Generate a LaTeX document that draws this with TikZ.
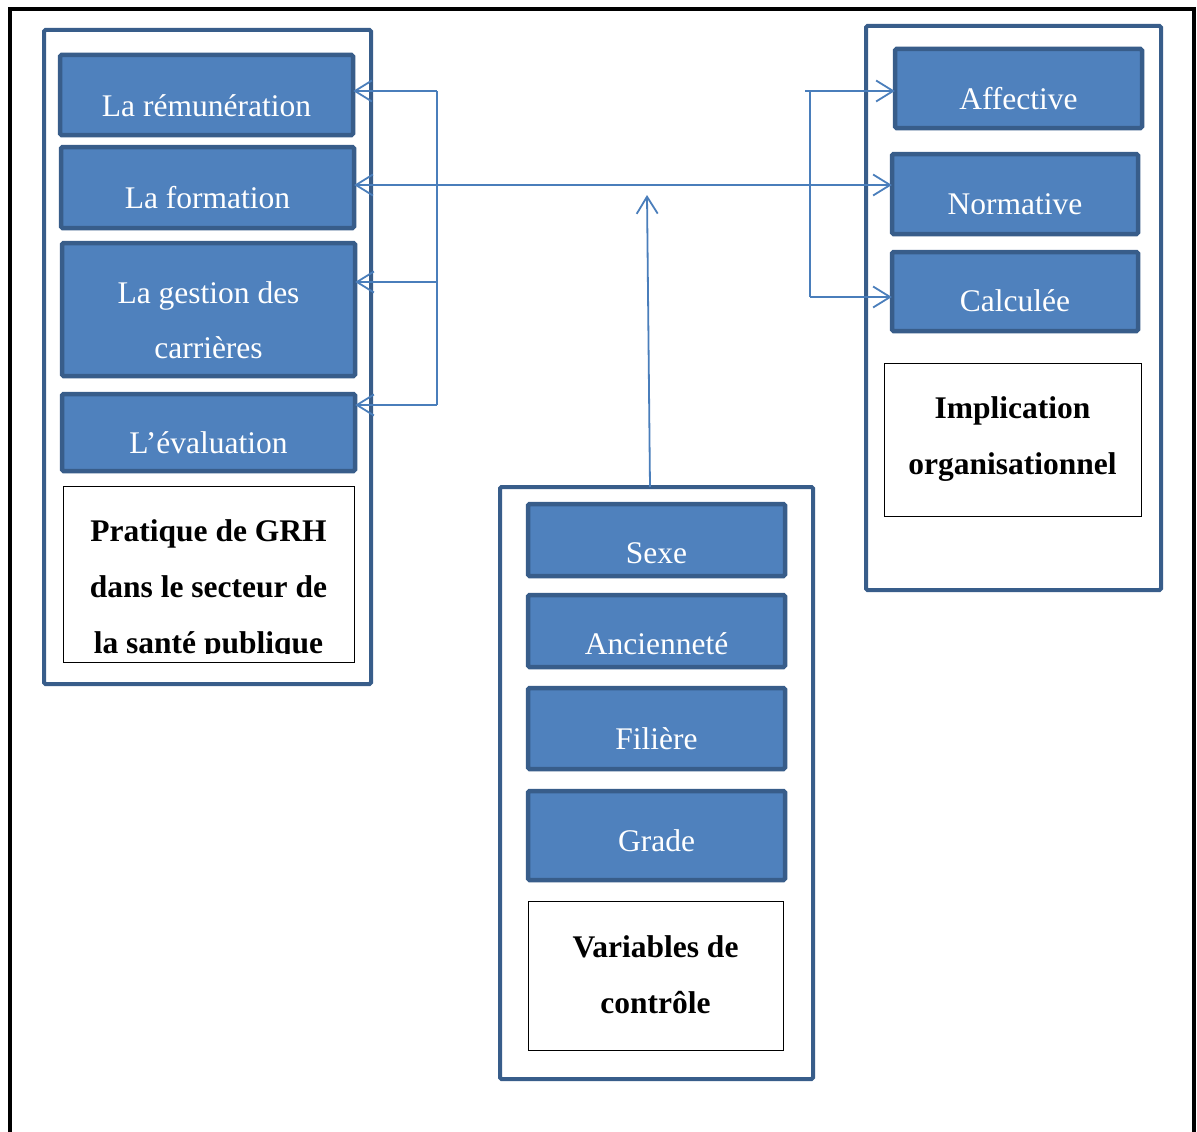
\documentclass[tikz,border=0pt]{standalone}
\usepackage{fontspec}
\setmainfont{Liberation Serif}
\usetikzlibrary{arrows.meta}
\definecolor{boxfill}{HTML}{4F81BD}
\definecolor{boxline}{HTML}{385D8A}
\definecolor{connc}{HTML}{4A7EBB}
\tikzset{
  container/.style={draw=boxline, line width=4pt, rounded corners=1.5pt},
  bluebox/.style={draw=boxline, fill=boxfill, line width=4.5pt, rounded corners=1.5pt},
  labelbox/.style={draw=black, line width=1pt, fill=white},
  btxt/.style={text=white, font=\fontsize{31.5}{55}\selectfont, anchor=base, align=center, inner sep=0pt},
  ltxt/.style={text=black, font=\bfseries\fontsize{31.5}{56}\selectfont, anchor=base, align=center, inner sep=0pt},
  conn/.style={draw=connc, line width=1.8pt},
  tip/.style={-{Straight Barb[length=17pt,width=21pt,line width=1.8pt]}},
}
\begin{document}
\begin{tikzpicture}[x=1pt,y=-1pt]
\clip (0,0) rectangle (1197,1132);
\fill[white] (0,0) rectangle (1197,1132);
% outer frame
\draw[line width=4.5pt, black] (10,1150) -- (10,9) -- (1194,9) -- (1194,1150);

% containers
\draw[container] (44,30) rectangle (371,684);
\draw[container] (866,26) rectangle (1161,590);
\draw[container] (500,487) rectangle (813,1079);

% left boxes
\path[bluebox] (60,55) rectangle (353,135);
\node[inner sep=0pt, minimum width=293pt, minimum height=80pt] (rem) at (206.5,95) {};
\node[btxt] at (206.5,116) {La rémunération};

\path[bluebox] (61,147) rectangle (354,228);
\node[inner sep=0pt, minimum width=293pt, minimum height=81pt] (form) at (207.5,187.5) {};
\node[btxt] at (207.5,208) {La formation};

\path[bluebox] (62,243) rectangle (355,376);
\node[inner sep=0pt, minimum width=293pt, minimum height=133pt] (gest) at (208.5,309.5) {};
\node[btxt] at (208.5,358) {La gestion des\\carrières};

\path[bluebox] (62,394) rectangle (355,471);
\node[inner sep=0pt, minimum width=293pt, minimum height=77pt] (eval) at (208.5,432.5) {};
\node[btxt] at (208.5,453) {L’évaluation};

\draw[labelbox] (63,486) rectangle (354,662);
\begin{scope}
\clip (63,486) rectangle (354,653.5);
\node[ltxt] (grh) at (208.5,653) {Pratique de GRH\\dans le secteur de\\la santé publique};
\end{scope}

% right boxes
\path[bluebox] (895,49) rectangle (1142,128);
\node[inner sep=0pt, minimum width=247pt, minimum height=79pt] (aff) at (1018.5,88.5) {};
\node[btxt] at (1018.5,109) {Affective};

\path[bluebox] (892,154) rectangle (1138,234);
\node[inner sep=0pt, minimum width=246pt, minimum height=80pt] (norm) at (1015,194) {};
\node[btxt] at (1015,214) {Normative};

\path[bluebox] (892,252) rectangle (1138,331);
\node[inner sep=0pt, minimum width=246pt, minimum height=79pt] (calc) at (1015,291.5) {};
\node[btxt] at (1015,311) {Calculée};

\draw[labelbox] (884,363) rectangle (1141,516);
\node[ltxt] (impl) at (1012.5,474) {Implication\\organisationnel};

% middle boxes
\path[bluebox] (528,504) rectangle (785,576);
\node[inner sep=0pt, minimum width=257pt, minimum height=72pt] (sexe) at (656.5,540) {};
\node[btxt] at (656.5,563) {Sexe};

\path[bluebox] (528,595) rectangle (785,667);
\node[inner sep=0pt, minimum width=257pt, minimum height=72pt] (anc) at (656.5,631) {};
\node[btxt] at (656.5,654) {Ancienneté};

\path[bluebox] (528,688) rectangle (785,769);
\node[inner sep=0pt, minimum width=257pt, minimum height=81pt] (fil) at (656.5,728.5) {};
\node[btxt] at (656.5,749) {Filière};

\path[bluebox] (528,791) rectangle (785,880);
\node[inner sep=0pt, minimum width=257pt, minimum height=89pt] (grade) at (656.5,835.5) {};
\node[btxt] at (656.5,851) {Grade};

\draw[labelbox] (528,901) rectangle (783,1050);
\node[ltxt] (var) at (655.5,1013) {Variables de\\contrôle};

% connectors
\coordinate (lb1) at (437,91);
\coordinate (lb3) at (437,282);
\coordinate (lb4) at (437,405);
\draw[conn] (lb1) -- (lb4);
\draw[conn, tip] (lb1) -- (rem.east |- lb1);
\draw[conn, tip] (lb3) -- (gest.east |- lb3);
\draw[conn, tip] (lb4) -- (eval.east |- lb4);

\coordinate (mh) at (640,185);
\draw[conn, {Straight Barb[length=17pt,width=21pt,line width=1.8pt]}-{Straight Barb[length=17pt,width=21pt,line width=1.8pt]}] (form.east |- mh) -- (norm.west |- mh);

\coordinate (rb0) at (805,91);
\coordinate (rb1) at (810,91);
\coordinate (rb3) at (810,297);
\draw[conn] (rb1) -- (rb3);
\draw[conn, tip] (rb0) -- (aff.west |- rb0);
\draw[conn, tip] (rb3) -- (calc.west |- rb3);

\coordinate (vt) at (647,195);
\coordinate (vb) at (650,487);
\draw[conn, tip] (vb) -- (vt);
\end{tikzpicture}
\end{document}
